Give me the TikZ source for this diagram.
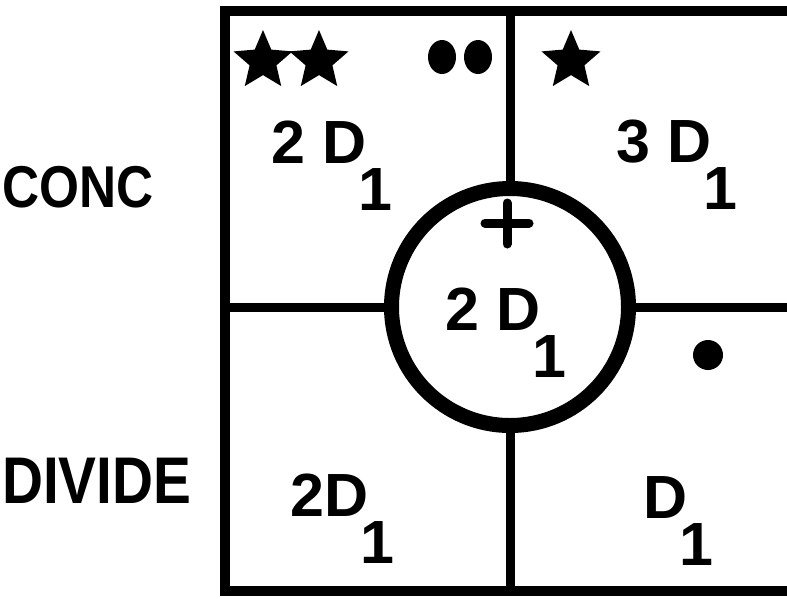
\documentclass[tikz,border=0pt]{standalone}
\usepackage{fontspec}
\setmainfont{Liberation Sans}
\usepackage{tikz}
\usetikzlibrary{shapes.geometric}

\newcommand{\sub}[1]{\hspace{-0.12em}\raisebox{-0.78em}{#1}}

\begin{document}
\begin{tikzpicture}[x=1pt, y=-1pt,
    cell/.style={font=\bfseries\fontsize{61}{61}\selectfont, inner sep=0pt, anchor=base west},
    side/.style={font=\bfseries\fontsize{#1}{#1}\selectfont, inner sep=0pt, anchor=base west},
    frame/.style={line width=10pt},
    divider/.style={line width=9pt},
    hub/.style={circle, draw, line width=15pt, minimum size=237pt, inner sep=0pt},
    starmark/.style={star, star points=5, star point ratio=2.2, fill, inner sep=0pt, minimum size=62pt},
    dotmark/.style={ellipse, fill, inner sep=0pt, minimum width=28pt, minimum height=34pt}]
    \useasboundingbox (0,0) rectangle (787,598);

    % Frame
    \draw[frame] (787,11) -- (225,11) -- (225,591) -- (787,591);
    \coordinate (ftop) at (510,11);
    \coordinate (fbot) at (510,591);
    \coordinate (fleft) at (225,307);
    \coordinate (fright) at (787,307);

    % Circle and dividers
    \node[hub] (hub) at (510,307) {};
    \draw[divider] (ftop) -- (hub);
    \draw[divider] (fbot) -- (hub);
    \draw[divider] (fleft) -- (hub);
    \draw[divider] (fright) -- (hub);

    % Plus sign
    \draw[line width=9pt, line cap=round] (485,223) -- (529,223);
    \draw[line width=9pt, line cap=round] (507,203) -- (507,244);

    % Marks
    \node[starmark] (star1) at (263,61) {};
    \node[starmark] (star2) at (319,61) {};
    \node[starmark] (star3) at (571,61) {};
    \node[dotmark] (dot1) at (442,57) {};
    \node[dotmark] (dot2) at (478,57) {};
    \node[circle, fill, inner sep=0pt, minimum size=30pt] (dot3) at (708,355) {};

    % Row labels
    \node[side=59] (conc) at (2,207) {\scalebox{0.87}[1]{CONC}};
    \node[side=66] (divide) at (2,503) {\scalebox{0.86}[1]{DIVIDE}};

    % Cell values
    \node[cell] (tl) at (271,163) {2 D\sub{1}};
    \node[cell] (tr) at (616,162) {3 D\sub{1}};
    \node[cell] (mid) at (445,330) {2 D\sub{1}};
    \node[cell] (bl) at (290,516) {2D\sub{1}};
    \node[cell] (br) at (643,518) {D\sub{1}};
\end{tikzpicture}
\end{document}
